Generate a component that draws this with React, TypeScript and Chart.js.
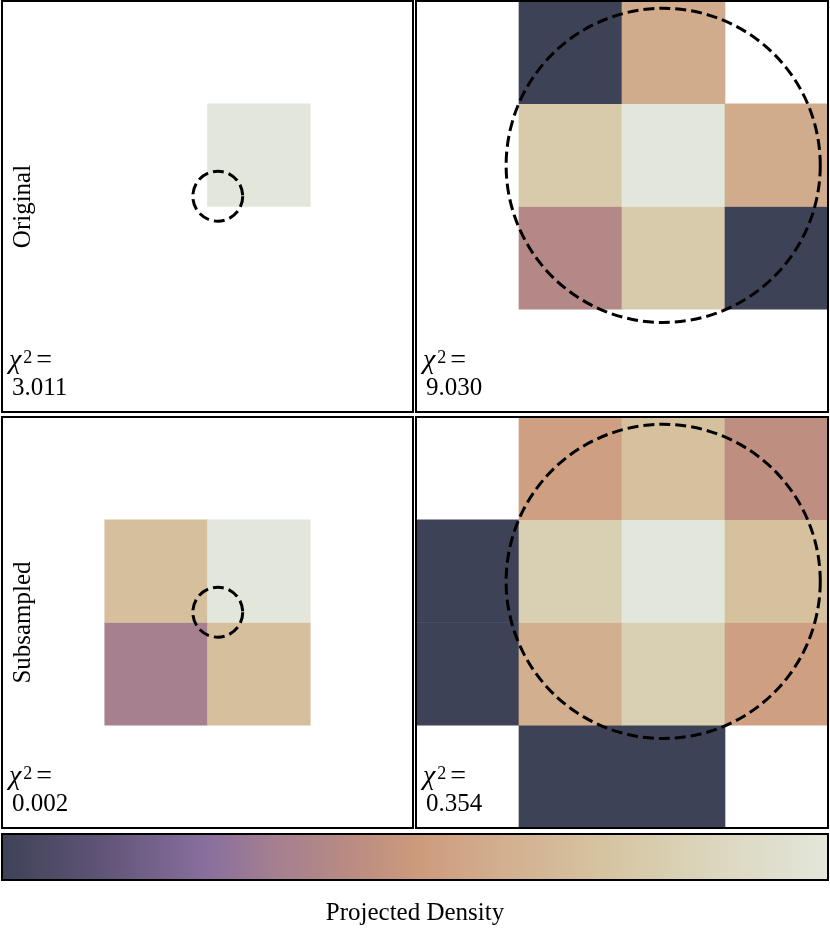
import React, { useEffect, useRef } from 'react';
import { Chart, registerables } from 'chart.js';

Chart.register(...registerables);

// ---------- data ----------
const COLUMNS = ['c0', 'c1', 'c2', 'c3'];

// projected density per cell (row 0 = top), null = empty cell
const ORIGINAL_FULL: (number | null)[][] = [
  [null, null, null, null],
  [null, null, 1.0, null],
  [null, null, null, null],
  [null, null, null, null],
];
const ORIGINAL_ZOOM: (number | null)[][] = [
  [null, 0.0, 0.59, null],
  [null, 0.78, 1.0, 0.59],
  [null, 0.4, 0.78, 0.0],
  [null, null, null, null],
];
const SUBSAMPLED_FULL: (number | null)[][] = [
  [null, null, null, null],
  [null, 0.7, 1.0, null],
  [null, 0.34, 0.7, null],
  [null, null, null, null],
];
const SUBSAMPLED_ZOOM: (number | null)[][] = [
  [null, 0.53, 0.71, 0.44],
  [0.0, 0.81, 1.0, 0.71],
  [0.0, 0.61, 0.81, 0.53],
  [null, 0.0, 0.0, null],
];

const ROW_LABELS = ['Original', 'Subsampled'];
const CHI2_VALUES = ['3.011', '9.030', '0.002', '0.354'];

// circles in cell units: [centerX, centerY (from top), radius]
const SMALL_CIRCLE = [2.1, 1.9, 0.243];
const LARGE_CIRCLE = [2.4, 1.6, 1.525];

// colormap stops
const CMAP_POS = [0, 0.125, 0.25, 0.33, 0.42, 0.5, 0.6, 0.73, 0.87, 1.0];
const CMAP_COLORS = [
  '#3e4257', '#615578', '#8a6f9e', '#a47f90', '#b98b83',
  '#cc9a7c', '#d2ae8e', '#d6c4a0', '#dcd7c0', '#e3e6da',
];
const COLORBAR_LABEL = 'Projected Density';

// ---------- helpers ----------
const SERIF = '"Liberation Serif", "Times New Roman", serif';

function hexToRgb(h: string) {
  const n = parseInt(h.slice(1), 16);
  return [(n >> 16) & 255, (n >> 8) & 255, n & 255];
}
function cmap(v: number) {
  const x = Math.max(0, Math.min(1, v));
  let i = 0;
  while (i < CMAP_POS.length - 2 && x > CMAP_POS[i + 1]) i++;
  const t = (x - CMAP_POS[i]) / (CMAP_POS[i + 1] - CMAP_POS[i]);
  const a = hexToRgb(CMAP_COLORS[i]);
  const b = hexToRgb(CMAP_COLORS[i + 1]);
  const c = a.map((av, k) => Math.round(av + (b[k] - av) * t));
  return `rgb(${c[0]},${c[1]},${c[2]})`;
}

const framePlugin = {
  id: 'frame',
  afterDraw(chart: any) {
    const { ctx, chartArea: a } = chart;
    ctx.save();
    ctx.setLineDash([]);
    ctx.lineWidth = 2;
    ctx.strokeStyle = '#000';
    ctx.strokeRect(a.left, a.top, a.right - a.left, a.bottom - a.top);
    ctx.restore();
  },
};

type PanelProps = {
  values: (number | null)[][];
  circle: number[];
  chi2: string;
  rowLabel?: string;
  left: number;
  top: number;
  padding: { left: number; right: number; top: number; bottom: number };
};

function Panel({ values, circle, chi2, rowLabel, left, top, padding }: PanelProps) {
  const ref = useRef<HTMLCanvasElement | null>(null);
  useEffect(() => {
    if (!ref.current) return;
    const deco = {
      id: 'deco',
      afterDatasetsDraw(chart: any) {
        const { ctx, chartArea: a, scales } = chart;
        const xs = scales.cx;
        const ys = scales.y;
        const px = xs.getPixelForValue(circle[0]);
        const py = ys.getPixelForValue(circle[1]);
        const pr = Math.abs(xs.getPixelForValue(circle[0] + circle[2]) - px);
        ctx.save();
        ctx.beginPath();
        ctx.arc(px, py, pr, 0, Math.PI * 2);
        ctx.setLineDash([11, 5]);
        ctx.lineWidth = 3;
        ctx.strokeStyle = '#000';
        ctx.stroke();
        ctx.restore();

        ctx.save();
        ctx.fillStyle = '#000';
        ctx.textAlign = 'left';
        ctx.textBaseline = 'alphabetic';
        const tx = a.left + 8;
        const b1 = a.top + 367;
        const b2 = a.top + 393.5;
        ctx.font = `italic 28px ${SERIF}`;
        ctx.fillText('χ', tx - 1, b1);
        const wChi = ctx.measureText('χ').width;
        ctx.font = `18px ${SERIF}`;
        ctx.fillText('2', tx + wChi + 1, b1 - 5);
        const w2 = ctx.measureText('2').width;
        ctx.font = `28px ${SERIF}`;
        ctx.fillText('=', tx + wChi + 1 + w2 + 4, b1);
        ctx.font = `25px ${SERIF}`;
        ctx.fillText(chi2, tx + 2, b2);

        if (rowLabel) {
          ctx.font = `25px ${SERIF}`;
          ctx.textAlign = 'center';
          ctx.translate(a.left + 28, (a.top + a.bottom) / 2);
          ctx.rotate(-Math.PI / 2);
          ctx.fillText(rowLabel, 0, 0);
        }
        ctx.restore();
      },
    };
    const chart = new Chart(ref.current, {
      type: 'bar',
      data: {
        labels: COLUMNS,
        datasets: values.map((row, r) => ({
          data: row.map((v) => (v === null ? null : [r, r + 1])) as any,
          backgroundColor: row.map((v) => (v === null ? 'rgba(0,0,0,0)' : cmap(v))),
          borderWidth: 0,
          grouped: false,
          barPercentage: 1,
          categoryPercentage: 1,
        })),
      },
      options: {
        animation: false,
        responsive: false,
        layout: { padding },
        scales: {
          x: { type: 'category', display: false, grid: { display: false } },
          cx: {
            type: 'linear', axis: 'x', position: 'bottom', min: 0, max: 4,
            offset: false, grid: { offset: false }, display: false,
          },
          y: { type: 'linear', min: 0, max: 4, reverse: true, display: false },
        } as any,
        plugins: { legend: { display: false }, tooltip: { enabled: false } },
      },
      plugins: [deco, framePlugin],
    });
    return () => chart.destroy();
  }, []);
  return (
    <canvas
      ref={ref}
      width={415}
      height={415}
      style={{ position: 'absolute', left, top, width: 415, height: 415 }}
    />
  );
}

function Colorbar() {
  const ref = useRef<HTMLCanvasElement | null>(null);
  useEffect(() => {
    if (!ref.current) return;
    const chart = new Chart(ref.current, {
      type: 'bar',
      data: {
        labels: ['colorbar'],
        datasets: [
          {
            data: [[0, 1]] as any,
            backgroundColor: (c: any) => {
              const ch = c.chart;
              const xs = ch.scales && ch.scales.x;
              if (!ch.chartArea || !xs) return CMAP_COLORS[0];
              const g = ch.ctx.createLinearGradient(xs.getPixelForValue(0), 0, xs.getPixelForValue(1), 0);
              CMAP_POS.forEach((p, i) => g.addColorStop(p, CMAP_COLORS[i]));
              return g;
            },
            borderWidth: 0,
            barPercentage: 1,
            categoryPercentage: 1,
          },
        ],
      },
      options: {
        indexAxis: 'y',
        animation: false,
        responsive: false,
        layout: { padding: { left: 2, right: 2, top: 3, bottom: 0 } },
        scales: {
          x: { type: 'linear', min: 0, max: 1, display: false },
          y: { display: false },
        },
        plugins: {
          legend: { display: false },
          tooltip: { enabled: false },
          title: {
            display: true,
            position: 'bottom',
            text: COLORBAR_LABEL,
            color: '#000',
            font: { family: SERIF, size: 25, weight: 'normal', lineHeight: 1.2 },
            padding: { top: 18, bottom: 0 },
          },
        },
      },
      plugins: [framePlugin],
    });
    return () => chart.destroy();
  }, []);
  return (
    <canvas
      ref={ref}
      width={830}
      height={97}
      style={{ position: 'absolute', left: 0, top: 831, width: 830, height: 97 }}
    />
  );
}

export default function App() {
  return (
    <div style={{ position: 'relative', width: 830, height: 928, background: '#fff' }}>
      <style>{'body{margin:0;}'}</style>
      <Panel
        values={ORIGINAL_FULL}
        circle={SMALL_CIRCLE}
        chi2={CHI2_VALUES[0]}
        rowLabel={ROW_LABELS[0]}
        left={0}
        top={0}
        padding={{ left: 2, right: 2, top: 1, bottom: 3 }}
      />
      <Panel
        values={ORIGINAL_ZOOM}
        circle={LARGE_CIRCLE}
        chi2={CHI2_VALUES[1]}
        left={415}
        top={0}
        padding={{ left: 1, right: 2, top: 1, bottom: 3 }}
      />
      <Panel
        values={SUBSAMPLED_FULL}
        circle={SMALL_CIRCLE}
        chi2={CHI2_VALUES[2]}
        rowLabel={ROW_LABELS[1]}
        left={0}
        top={415}
        padding={{ left: 2, right: 2, top: 2, bottom: 2 }}
      />
      <Panel
        values={SUBSAMPLED_ZOOM}
        circle={LARGE_CIRCLE}
        chi2={CHI2_VALUES[3]}
        left={415}
        top={415}
        padding={{ left: 1, right: 2, top: 2, bottom: 2 }}
      />
      <Colorbar />
    </div>
  );
}
